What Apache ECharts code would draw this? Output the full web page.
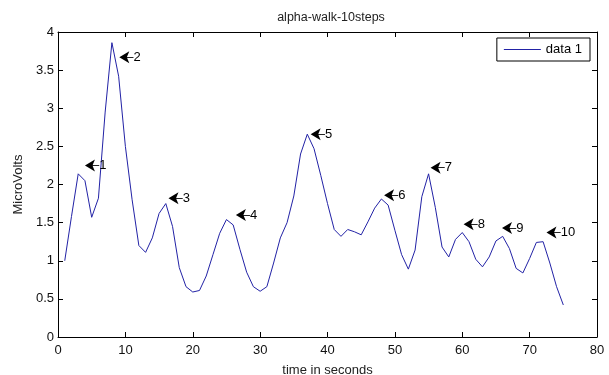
<!DOCTYPE html>
<html>
<head>
<meta charset="utf-8">
<title>alpha-walk-10steps</title>
<script src="https://cdn.jsdelivr.net/npm/echarts@6/dist/echarts.min.js"></script>
<style>
  html, body { margin: 0; padding: 0; background: #fff; }
  #chart { width: 609px; height: 375px; }
</style>
</head>
<body>
<div id="chart"></div>
<script>
  // time axis (seconds) and signal (microvolts)
  const seconds = [
    1, 2, 3, 4, 5, 6, 7, 8, 9, 10, 11, 12, 13, 14, 15, 16, 17, 18, 19, 20,
    21, 22, 23, 24, 25, 26, 27, 28, 29, 30, 31, 32, 33, 34, 35, 36, 37, 38, 39, 40,
    41, 42, 43, 44, 45, 46, 47, 48, 49, 50, 51, 52, 53, 54, 55, 56, 57, 58, 59, 60,
    61, 62, 63, 64, 65, 66, 67, 68, 69, 70, 71, 72, 73, 74, 75
  ]
  const microVolts = [
    1.0, 1.58, 2.14, 2.05, 1.57, 1.82, 2.95, 3.86, 3.42, 2.5,
    1.8, 1.2, 1.11, 1.3, 1.62, 1.75, 1.45, 0.91, 0.66, 0.59,
    0.61, 0.8, 1.08, 1.36, 1.54, 1.47, 1.15, 0.85, 0.66, 0.6,
    0.66, 0.97, 1.3, 1.5, 1.85, 2.4, 2.66, 2.47, 2.12, 1.75,
    1.41, 1.32, 1.41, 1.38, 1.34, 1.51, 1.69, 1.81, 1.73, 1.4,
    1.08, 0.89, 1.14, 1.84, 2.14, 1.7, 1.18, 1.05, 1.28, 1.37,
    1.25, 1.02, 0.92, 1.05, 1.26, 1.32, 1.16, 0.9, 0.84, 1.03,
    1.24, 1.25, 0.97, 0.66, 0.42
  ]

  // step markers (arrow tip position + label)
  const stepX = [4.0, 9.1, 16.4, 26.4, 37.5, 48.4, 55.3, 60.2, 65.9, 72.5]
  const stepY = [2.25, 3.67, 1.82, 1.6, 2.66, 1.86, 2.22, 1.48, 1.43, 1.37]
  const stepLabels = ['1', '2', '3', '4', '5', '6', '7', '8', '9', '10']

  // axis ticks
  const xTicks = { min: 0, max: 80, interval: 10 }
  const yTicks = { min: 0, max: 4, interval: 0.5 }

  const font = 'Liberation Sans, Arial, sans-serif'
  const lineColor = '#2222a6'

  const chart = echarts.init(document.getElementById('chart'))

  // 坐标轴公共样式（MATLAB 风格：刻度朝内、四边框）
  const boxAxis = {
    axisLine: { show: true, onZero: false, lineStyle: { color: '#000', width: 1 } },
    axisTick: { show: true, inside: true, length: 5, lineStyle: { color: '#000' } },
    splitLine: { show: false }
  }

  chart.setOption({
    animation: false,
    backgroundColor: '#fff',
    textStyle: { fontFamily: font },
    title: {
      text: 'alpha-walk-10steps',
      left: 326,
      top: 6,
      textAlign: 'center',
      textStyle: { fontSize: 12.5, fontWeight: 'normal', color: '#222', fontFamily: font }
    },
    legend: {
      data: ['data 1'],
      right: 19,
      top: 38,
      orient: 'vertical',
      backgroundColor: '#fff',
      borderColor: '#000',
      borderWidth: 1,
      borderRadius: 0,
      padding: [5, 8, 5, 7],
      itemWidth: 37,
      itemHeight: 14,
      itemGap: 4,
      icon: 'path://M0,7L37,7L37,8L0,8Z',
      textStyle: { fontSize: 13, color: '#000', fontFamily: font }
    },
    grid: { left: 58, right: 12, top: 32, bottom: 38, containLabel: false, outerBoundsMode: 'none' },
    xAxis: [
      {
        type: 'value',
        ...xTicks,
        position: 'bottom',
        name: 'time in seconds',
        nameLocation: 'middle',
        nameGap: 27,
        nameTextStyle: { fontSize: 13, color: '#222', fontFamily: font },
        axisLabel: { fontSize: 13, color: '#111', margin: 7 },
        ...boxAxis
      },
      {
        type: 'value',
        ...xTicks,
        position: 'top',
        axisLabel: { show: false },
        ...boxAxis
      }
    ],
    yAxis: [
      {
        type: 'value',
        ...yTicks,
        position: 'left',
        name: 'MicroVolts',
        nameLocation: 'middle',
        nameGap: 23,
        nameTextStyle: { fontSize: 13, color: '#222', fontFamily: font },
        axisLabel: { fontSize: 13, color: '#111', margin: 4 },
        ...boxAxis
      },
      {
        type: 'value',
        ...yTicks,
        position: 'right',
        axisLabel: { show: false },
        ...boxAxis
      }
    ],
    series: [
      {
        name: 'data 1',
        type: 'line',
        data: seconds.map((t, i) => [t, microVolts[i]]),
        showSymbol: false,
        symbol: 'none',
        lineStyle: { color: lineColor, width: 1 },
        itemStyle: { color: lineColor },
        z: 2
      },
      {
        name: 'steps',
        type: 'scatter',
        data: stepX.map((x, i) => ({ value: [x, stepY[i]], name: stepLabels[i] })),
        symbol: 'arrow',
        symbolSize: [9, 10],
        symbolRotate: 90,
        symbolOffset: [0, 0],
        itemStyle: { color: '#000', opacity: 1 },
        label: {
          show: true,
          position: 'right',
          distance: -3,
          formatter: p => '\u2013' + p.name,
          fontSize: 13,
          color: '#000',
          fontFamily: font
        },
        z: 3
      }
    ]
  })
</script>
</body>
</html>
